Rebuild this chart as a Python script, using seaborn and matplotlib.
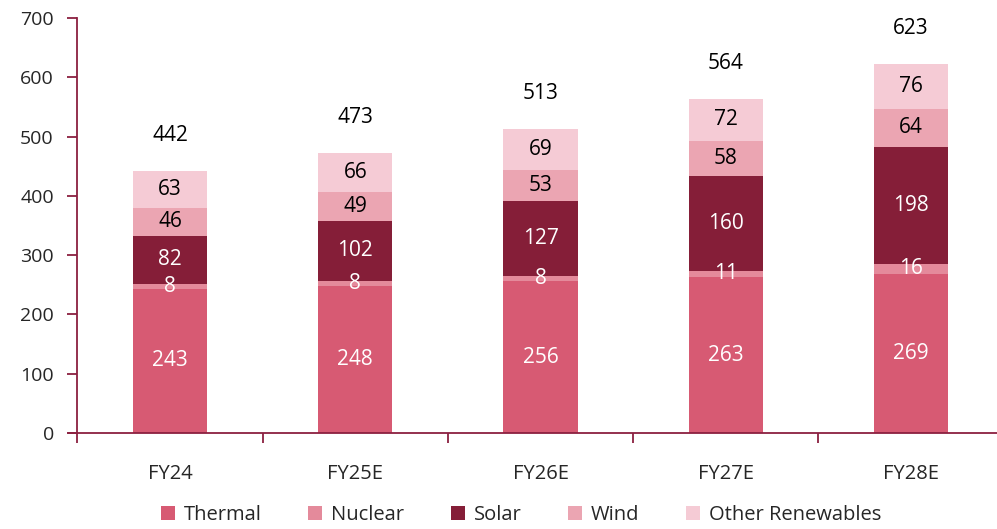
import matplotlib
matplotlib.use("Agg")
import matplotlib.pyplot as plt
import seaborn as sns
import numpy as np
import pandas as pd
from matplotlib.patches import Patch
from matplotlib.lines import Line2D

years = ["FY24", "FY25E", "FY26E", "FY27E", "FY28E"]
thermal = [243, 248, 256, 263, 269]
nuclear = [8, 8, 8, 11, 16]
solar = [82, 102, 127, 160, 198]
wind = [46, 49, 53, 58, 64]
other = [63, 66, 69, 72, 76]
totals = [442, 473, 513, 564, 623]

series_names = ["Thermal", "Nuclear", "Solar", "Wind", "Other Renewables"]
series_vals = [thermal, nuclear, solar, wind, other]
colors = ["#D75A73", "#E48A9B", "#851E38", "#EBA5B2", "#F5CBD5"]
text_colors = ["white", "white", "white", "black", "black"]

sns.set_style("white")
plt.rcParams["font.family"] = ["Open Sans", "DejaVu Sans"]

fig = plt.figure(figsize=(9.97, 5.29), dpi=100)
left = 77.4 / 997
right = 1003.6 / 997
bottom = (529 - 433) / 529
top = (529 - 18) / 529
ax = fig.add_axes([left, bottom, right - left, top - bottom])

arr = np.array(series_vals, dtype=float)
cum = np.cumsum(arr, axis=0)

# draw stacked bars back-to-front using cumulative heights
for i in range(len(series_names) - 1, -1, -1):
    df = pd.DataFrame({"year": years, "value": cum[i]})
    sns.barplot(data=df, x="year", y="value", color=colors[i], width=0.4,
                saturation=1, ax=ax, linewidth=0, edgecolor="none")

# segment labels
for i in range(len(series_names)):
    for j in range(len(years)):
        base = cum[i][j] - arr[i][j]
        ax.text(j, base + arr[i][j] / 2, f"{int(arr[i][j])}", ha="center",
                va="center", color=text_colors[i], fontsize=15)

# totals
for j, t in enumerate(totals):
    ax.annotate(f"{t}", xy=(j, t), xytext=(0, 35), textcoords="offset pixels",
                ha="center", va="center", fontsize=15, color="black")

axis_color = "#8B2040"
ax.set_xlim(-0.5, 4.5)
ax.set_ylim(0, 700)
ax.set_yticks(range(0, 701, 100))
ax.set_xlabel("")
ax.set_ylabel("")
for s in ["top", "right"]:
    ax.spines[s].set_visible(False)
for s in ["left", "bottom"]:
    ax.spines[s].set_color(axis_color)
    ax.spines[s].set_linewidth(1.3)

ax.set_xticks(range(len(years)))
ax.set_xticklabels(years)
ax.set_xticks(np.arange(-0.5, 4.6, 1.0), minor=True)
ax.tick_params(axis="both", which="both", left=True, bottom=True)
ax.tick_params(axis="x", which="major", length=0, pad=22, labelsize=14.5)
ax.tick_params(axis="x", which="minor", length=7, width=1.3, color=axis_color, direction="out")
ax.tick_params(axis="y", which="major", length=7, width=1.3, color=axis_color,
               direction="out", labelsize=14, pad=10)
ax.grid(False)

# small extension of x axis to the left of the y axis
ax.add_line(Line2D([-0.010, 0], [0, 0], transform=ax.transAxes, color=axis_color,
                   linewidth=1.3, clip_on=False))

handles = [Patch(facecolor=c, edgecolor="none") for c in colors]
fig.legend(handles, series_names, loc="center", ncol=5,
           bbox_to_anchor=(521 / 997, 1 - 515 / 529), frameon=False,
           fontsize=14.5, handlelength=0.7, handleheight=0.7,
           handletextpad=0.45, columnspacing=2.3, borderaxespad=0)

fig.savefig("out.png", dpi=100)
